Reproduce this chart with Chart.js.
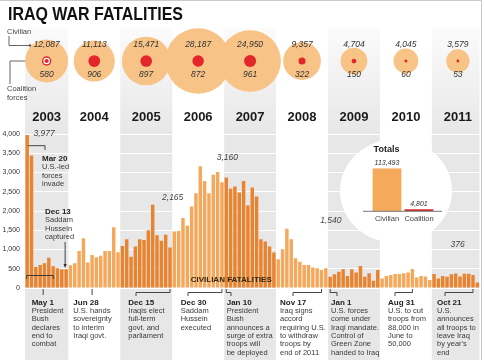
<!DOCTYPE html>
<html><head><meta charset="utf-8">
<script src="https://cdn.jsdelivr.net/npm/chart.js@4.4.1/dist/chart.umd.min.js"></script>
<style>
html,body{margin:0;padding:0;background:#fff;}
#wrap{position:relative;width:485px;height:360px;overflow:hidden;}
#main{position:absolute;left:0;top:0;}
#tot{position:absolute;left:360px;top:140px;}
</style></head><body>
<div id="wrap"><canvas id="main" width="485" height="360"></canvas><canvas id="tot" width="86" height="88"></canvas></div>
<script>
// ---------- DATA ----------
const years = ['2003','2004','2005','2006','2007','2008','2009','2010','2011'];
const monthsPerYear = [10,12,12,12,12,12,12,12,12];
const civilianByYear = [12087, 11113, 15471, 28187, 24950, 9357, 4704, 4045, 3579];
const coalitionByYear = [580, 906, 897, 872, 961, 322, 150, 60, 53];

const civ2003 = [3977, 3440, 545, 595, 645, 785, 565, 515, 485, 490];
const civ2004 = [590, 645, 960, 1290, 660, 860, 800, 840, 960, 960, 1580, 930];
const civ2005 = [1090, 1265, 815, 1080, 1265, 1250, 1500, 2165, 1370, 1230, 1380, 1050];
const civ2006 = [1465, 1480, 1820, 1620, 2120, 2460, 3160, 2780, 2460, 2940, 3010, 2750];
const civ2007 = [2870, 2575, 2635, 2480, 2780, 2140, 2610, 2375, 1265, 1205, 1075, 920];
const civ2008 = [745, 1005, 1540, 1265, 770, 685, 600, 600, 530, 510, 470, 510];
const civ2009 = [295, 355, 425, 485, 310, 485, 400, 570, 295, 380, 190, 470];
const civ2010 = [250, 310, 340, 365, 365, 380, 400, 495, 270, 310, 300, 210];
const civ2011 = [365, 250, 310, 290, 360, 376, 300, 370, 370, 340, 140];
const civByYearMonthly = [civ2003, civ2004, civ2005, civ2006, civ2007, civ2008, civ2009, civ2010, civ2011];

const yTicks = [0, 500, 1000, 1500, 2000, 2500, 3000, 3500, 4000];
const peakMonths = [0, 29, 40, 60, 99];   // indexes into the monthly series

const totalsLabels = ['Civilian', 'Coalition'];
const totalsValues = [113493, 4801];

const eventDates = ['May 1','Jun 28','Dec 15','Dec 30','Jan 10','Nov 17','Jan 1','Aug 31','Oct 21'];
const eventTexts = [
  ['President','Bush','declares','end to','combat'],
  ['U.S. hands','sovereignty','to interim','Iraqi govt.'],
  ['Iraqis elect','full-term','govt. and','parliament'],
  ['Saddam','Hussein','executed'],
  ['President','Bush','announces a','surge of extra','troops will','be deployed'],
  ['Iraq signs','accord','requiring U.S.','to withdraw','troops by','end of 2011'],
  ['U.S. forces','come under','Iraqi mandate.','Control of','Green Zone','handed to Iraq'],
  ['U.S. to cut','troops from','88,000 in','June to','50,000'],
  ['U.S.','announces','all troops to','leave Iraq',"by year's",'end']
];
const eventMonths = [3.7, 15, 33, 45, 46, 68, 70, 89, 103];

// ---------- LAYOUT / STYLE ----------
const FONT = "'Liberation Sans', Arial, Helvetica, sans-serif";
const eventTextX = [31.7, 73.3, 128.3, 180.7, 226.7, 280, 331, 388, 437];
const eventConnX = [null, null, 136, 188, 231, 293, 337, 395, 445];
const peakOffsets = [[17,-1],[20,-7.5],[27,-8.5],[44,-8],[2,-29]];
const K = 0.195; // px per sqrt(fatality), bubble area proportional to value

const monthly = [].concat(...civByYearMonthly);
const yearStart = []; { let s = 0; monthsPerYear.forEach(m => { yearStart.push(s); s += m; }); }
const yearCenter = i => yearStart[i] + monthsPerYear[i] / 2 - 0.5;
const yearOfMonth = []; civByYearMonthly.forEach((a, yi) => a.forEach(() => yearOfMonth.push(yi)));
const barColors = yearOfMonth.map(yi => yi % 2 === 0 ? '#e8842f' : '#f3a85c');
const fmt = v => v.toLocaleString('en-US');

function txt(ctx, s, x, y, font, color, align) {
  ctx.font = font; ctx.fillStyle = color; ctx.textAlign = align || 'left'; ctx.textBaseline = 'middle';
  ctx.fillText(s, x, y);
}
function line(ctx, pts, color, w) {
  ctx.beginPath(); ctx.strokeStyle = color || '#333'; ctx.lineWidth = w || 0.9;
  pts.forEach((p, i) => i ? ctx.lineTo(p[0], p[1]) : ctx.moveTo(p[0], p[1])); ctx.stroke();
}

const deco = {
  id: 'deco',
  beforeDraw(chart) {
    const ctx = chart.ctx, x = chart.scales.x, ca = chart.chartArea;
    ctx.save();
    ctx.fillStyle = '#fff'; ctx.fillRect(0, 0, chart.width, chart.height);
    // alternating year columns
    const g = ctx.createLinearGradient(0, 28, 0, 135);
    g.addColorStop(0, '#fbfbfb'); g.addColorStop(1, '#e7e7e7');
    years.forEach((y, i) => {
      if (i % 2) return;
      const l = x.getPixelForValue(yearStart[i] - 0.5);
      const r = Math.min(ca.right, x.getPixelForValue(yearStart[i] + monthsPerYear[i] - 0.5));
      ctx.fillStyle = g; ctx.fillRect(l, 28, r - l, 360 - 28);
    });
    // frame
    line(ctx, [[0, 0.5], [481.5, 0.5], [481.5, 360]], '#c9c9c9', 1);
    // title
    ctx.font = 'bold 17px ' + FONT;
    const tw = ctx.measureText('IRAQ WAR FATALITIES').width;
    ctx.save(); ctx.translate(8, 15); ctx.scale(175 / tw, 1.05);
    ctx.fillStyle = '#111'; ctx.textBaseline = 'middle'; ctx.textAlign = 'left';
    ctx.fillText('IRAQ WAR FATALITIES', 0, 0); ctx.restore();
    // legend
    txt(ctx, 'Civilian', 7, 31.5, '7.5px ' + FONT, '#444');
    line(ctx, [[9, 36], [9, 45.5], [29, 45.5]], '#555', 0.9);
    ctx.beginPath(); ctx.fillStyle = '#555'; ctx.arc(30, 45.5, 1.3, 0, Math.PI * 2); ctx.fill();
    txt(ctx, 'Coalition', 7, 89.3, '7.5px ' + FONT, '#444');
    txt(ctx, 'forces', 7, 97.7, '7.5px ' + FONT, '#444');
    line(ctx, [[10, 84], [10, 61], [41, 61]], '#555', 0.9);
    // year labels
    years.forEach((y, i) => txt(ctx, y, x.getPixelForValue(yearCenter(i)), 117, 'bold 13px ' + FONT, '#1a1a1a', 'center'));
    ctx.restore();
  },
  beforeDatasetsDraw(chart) {
    const ctx = chart.ctx;
    ctx.save(); ctx.fillStyle = '#fff';
    ctx.beginPath(); ctx.ellipse(396, 191, 56, 52, 0, 0, Math.PI * 2); ctx.fill();
    ctx.restore();
  },
  afterDatasetsDraw(chart) {
    const ctx = chart.ctx, x = chart.scales.x, y = chart.scales.y;
    ctx.save();
    // bubble value labels
    const dots = chart.getDatasetMeta(2).data;
    chart.getDatasetMeta(1).data.forEach((el, i) => {
      txt(ctx, fmt(civilianByYear[i]), el.x, el.y - 16, 'italic 8.5px ' + FONT, '#333', 'center');
      txt(ctx, fmt(coalitionByYear[i]), el.x, el.y + 14, 'italic 8.5px ' + FONT, '#333', 'center');
    });
    // 2003 target ring
    const d0 = dots[0];
    ctx.beginPath(); ctx.strokeStyle = '#fff'; ctx.lineWidth = 1.2; ctx.arc(d0.x, d0.y, 2.7, 0, Math.PI * 2); ctx.stroke();
    // peak labels
    peakMonths.forEach((m, i) => {
      const px = x.getPixelForValue(m), py = y.getPixelForValue(monthly[m]);
      txt(ctx, fmt(monthly[m]), px + peakOffsets[i][0], py + peakOffsets[i][1], 'italic 8.5px ' + FONT, '#444', 'center');
    });
    // Mar 20 note
    const x0 = x.getPixelForValue(0);
    line(ctx, [[x0 + 1, 145.7], [45, 145.7], [45, 150]], '#333', 0.9);
    txt(ctx, 'Mar 20', 42, 158.5, 'bold 8px ' + FONT, '#222');
    ['U.S.-led', 'forces', 'invade'].forEach((s, j) => txt(ctx, s, 42, 167.3 + j * 8.4, '7.5px ' + FONT, '#3a3a3a'));
    // Dec 13 note
    txt(ctx, 'Dec 13', 45, 211.7, 'bold 8px ' + FONT, '#222');
    ['Saddam', 'Hussein', 'captured'].forEach((s, j) => txt(ctx, s, 45, 220.1 + j * 8.4, '7.5px ' + FONT, '#3a3a3a'));
    const xd = x.getPixelForValue(9) - 1;
    line(ctx, [[xd, 242], [xd, 266]], '#333', 0.9);
    ctx.beginPath(); ctx.fillStyle = '#333'; ctx.moveTo(xd - 1.6, 264); ctx.lineTo(xd + 1.6, 264); ctx.lineTo(xd, 268); ctx.fill();
    // lower bracket
    line(ctx, [[x0 - 0.5, 279], [x0 - 0.5, 275.5], [53.3, 275.5], [53.3, 279]], '#333', 0.9);
    // series title
    txt(ctx, 'CIVILIAN FATALITIES', 190.7, 279.5, 'bold 8px ' + FONT, '#3a2810');
    // events
    eventDates.forEach((dt, i) => {
      const tx = eventTextX[i];
      txt(ctx, dt, tx, 302.3, 'bold 8px ' + FONT, '#222');
      eventTexts[i].forEach((s, j) => txt(ctx, s, tx, 310.7 + j * 8.4, '7.5px ' + FONT, '#3a3a3a'));
      const px = x.getPixelForValue(eventMonths[i]);
      if (eventConnX[i] == null) line(ctx, [[px, 289], [px, 295]], '#333', 0.9);
      else line(ctx, [[px, 289], [px, 292.5], [eventConnX[i], 292.5], [eventConnX[i], 296]], '#333', 0.9);
    });
    ctx.restore();
  }
};

new Chart(document.getElementById('main'), {
  type: 'bar',
  data: {
    datasets: [
      { type: 'bar', data: monthly.map((v, i) => ({ x: i, y: v })), backgroundColor: barColors,
        barPercentage: 0.8, categoryPercentage: 1, xAxisID: 'x', yAxisID: 'y', order: 3 },
      { type: 'bubble', data: civilianByYear.map((v, i) => ({ x: yearCenter(i), y: 0, r: K * Math.sqrt(v) })),
        backgroundColor: '#f7c387', borderWidth: 0, hoverRadius: 0, xAxisID: 'x', yAxisID: 'yb', order: 2, clip: false },
      { type: 'bubble', data: coalitionByYear.map((v, i) => ({ x: yearCenter(i), y: 0, r: K * Math.sqrt(v) })),
        backgroundColor: '#e3262a', borderWidth: 0, hoverRadius: 0, xAxisID: 'x', yAxisID: 'yb', order: 1, clip: false }
    ]
  },
  options: {
    responsive: false, animation: false, events: [],
    layout: { autoPadding: false, padding: { left: 0, right: 5.5, top: 0, bottom: 0 } },
    plugins: { legend: { display: false }, tooltip: { enabled: false } },
    scales: {
      x: { type: 'linear', min: -0.5, max: monthly.length - 0.5, offset: false, display: false, grid: { offset: false } },
      y: { type: 'linear', min: -1870, max: 7480.5, position: 'left',
        afterFit: s => { s.width = 25; s.paddingTop = 0; s.paddingBottom = 0; },
        afterBuildTicks: s => { s.ticks = yTicks.map(v => ({ value: v })); },
        grid: { color: '#ffffff', lineWidth: 1, drawTicks: false },
        border: { display: false },
        ticks: { font: { family: FONT, size: 7 }, color: '#333', padding: 5, callback: v => fmt(v) } },
      yb: { type: 'linear', min: -4.9, max: 1, display: false }
    }
  },
  plugins: [deco]
});

const totPlugin = {
  id: 'tot',
  afterDatasetsDraw(chart) {
    const ctx = chart.ctx; ctx.save();
    txt(ctx, 'Totals', 26.5, 9.5, 'bold 9px ' + FONT, '#222', 'center');
    chart.getDatasetMeta(0).data.forEach((b, i) => {
      txt(ctx, fmt(totalsValues[i]), b.x, b.y - 5.5, 'italic 7px ' + FONT, '#333', 'center');
    });
    line(ctx, [[3, 71.3], [82, 71.3]], '#777', 1);
    ctx.restore();
  }
};
new Chart(document.getElementById('tot'), {
  type: 'bar',
  data: { labels: totalsLabels, datasets: [{ data: totalsValues, backgroundColor: ['#f5a95a', '#d42b2b'], barPercentage: 0.9, categoryPercentage: 1 }] },
  options: {
    responsive: false, animation: false, events: [],
    layout: { autoPadding: false, padding: { left: 11, right: 11, top: 28.3, bottom: 0 } },
    plugins: { legend: { display: false }, tooltip: { enabled: false } },
    scales: {
      x: { grid: { display: false, drawTicks: false }, border: { display: false },
        ticks: { font: { family: FONT, size: 7.5 }, color: '#444', padding: 3.5, maxRotation: 0, minRotation: 0, autoSkip: false },
        afterFit: s => { s.height = 17; } },
      y: { display: false, min: 0, max: Math.max(...totalsValues) }
    }
  },
  plugins: [totPlugin]
});
</script>
</body></html>
